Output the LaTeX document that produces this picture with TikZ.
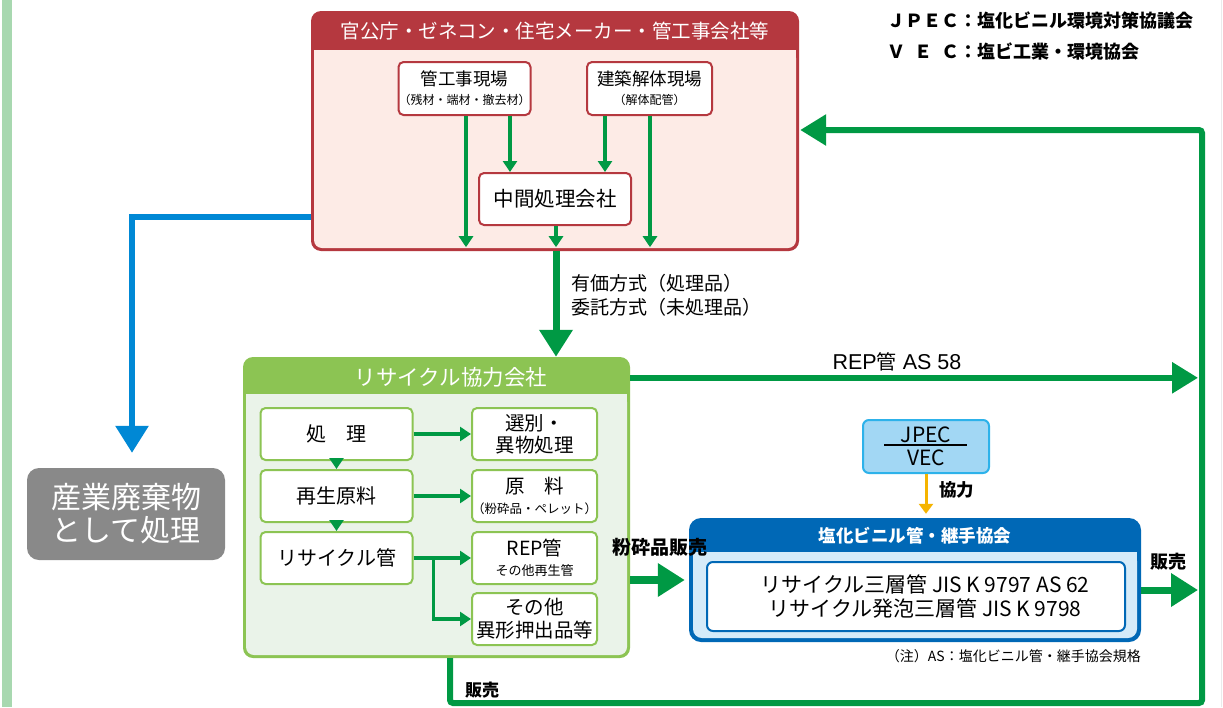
\documentclass[tikz,border=0pt]{standalone}
\usepackage{fontspec}
\setmainfont{Noto Sans CJK JP}
\newfontfamily\lat{Liberation Sans}
\usetikzlibrary{arrows.meta,calc}
\definecolor{redc}{HTML}{B5383F}
\definecolor{pinkc}{HTML}{FDEBE6}
\definecolor{gc}{HTML}{009944}
\definecolor{lgc}{HTML}{8CC453}
\definecolor{rbgc}{HTML}{EAF3E9}
\definecolor{bluel}{HTML}{0088D5}
\definecolor{dbc}{HTML}{0068B6}
\definecolor{lbc}{HTML}{D5EBF9}
\definecolor{jfill}{HTML}{A2D7F4}
\definecolor{jdraw}{HTML}{2DB2EA}
\definecolor{grayc}{HTML}{898989}
\definecolor{yelc}{HTML}{F5B400}
\definecolor{barc}{HTML}{A8D8B0}
\newcommand\fz[2]{\fontsize{#1}{#2}\selectfont}
\begin{document}
\begin{tikzpicture}[x=1pt,y=-1pt,
  redbox/.style={draw=redc,line width=2,fill=white,rounded corners=5,inner sep=0,align=center},
  grbox/.style={draw=lgc,line width=2,fill=white,rounded corners=5,inner sep=0,align=center,minimum width=152,minimum height=52},
  thinarrow/.style={draw=gc,line width=3.5,-{Triangle[length=11pt,width=14pt]}},
  bigarrow/.style={draw=gc,line width=7,-{Triangle[length=27pt,width=32pt]}},
  railarrow/.style={draw=gc,line width=6,-{Triangle[length=26pt,width=30pt]}},
  lbl/.style={inner sep=0,text=black}
]
\useasboundingbox (0,0) rectangle (1223,707);
\fill[white] (0,0) rectangle (1223,707);
\fill[barc] (2,0) rectangle (12,707);
\draw[black!8,line width=1] (1221,0) -- (1221,707);

% legend
\node[lbl,anchor=west,font=\fz{18}{22}\bfseries] (leg1) at (887,21) {ＪＰＥＣ：塩化ビニル環境対策協議会};
\node[lbl,anchor=west,font=\fz{18}{22}\bfseries] (leg2) at (887,52) {\makebox[72pt][s]{Ｖ\hfill Ｅ\hfill Ｃ}：塩ビ工業・環境協会};

% top box
\fill[redc,rounded corners=10] (311,11) rectangle (799,251);
\fill[pinkc,rounded corners=8] (314,50) rectangle (796,248);
\fill[pinkc] (314,50) rectangle (796,62);
\node[inner sep=0,minimum width=488,minimum height=240] (top) at (555,131) {};
\node[lbl,text=white,font=\fz{19.5}{22}] (toptitle) at (555,31) {官公庁・ゼネコン・住宅メーカー・管工事会社等};
\node[redbox,minimum width=125,minimum height=53,font=\fz{17.5}{19}] (kj) at (464.5,88.5) {管工事現場\\{\fz{12}{13}（残材・端材・撤去材）}};
\node[redbox,minimum width=125,minimum height=53,font=\fz{17.5}{19}] (kc) at (649.5,88.5) {建築解体現場\\{\fz{12}{13}（解体配管）}};
\node[redbox,minimum width=152,minimum height=52,font=\fz{20.5}{22}] (chk) at (555,199) {中間処理会社};

\draw[thinarrow] ([xshift=1.5]kj.south) -- ([xshift=-89,yshift=4]top.south);
\draw[thinarrow] ([xshift=45.5]kj.south) -- ([xshift=-45]chk.north);
\draw[thinarrow] ([xshift=-44.5]kc.south) -- ([xshift=50]chk.north);
\draw[thinarrow] ([xshift=0.5]kc.south) -- ([xshift=95,yshift=4]top.south);
\draw[thinarrow] ([xshift=1]chk.south) -- ([xshift=1,yshift=4]top.south);

% waste
\node[fill=grayc,rounded corners=12,minimum width=198,minimum height=92,inner sep=0,text=white,font=\fz{30}{33},align=center] (waste) at (126,514) {産業廃棄物\\として処理};
\coordinate (b1) at ([yshift=-86]top.west);
\draw[draw=bluel,line width=6,-{Triangle[length=27pt,width=32pt]}] (b1) -| ([xshift=6,yshift=15]waste.north);

% recycle box
\fill[lgc,rounded corners=10] (243,357) rectangle (630,658);
\fill[rbgc,rounded corners=8] (246,394) rectangle (627,655);
\fill[rbgc] (246,394) rectangle (627,404);
\node[inner sep=0,minimum width=387,minimum height=301] (rc) at (436.5,507.5) {};
\node[lbl,text=white,font=\fz{21.5}{22}] (rctitle) at (451,377) {リサイクル協力会社};

\node[grbox,font=\fz{20}{22}] (shori) at (336.5,434) {処　理};
\node[grbox,font=\fz{20}{22}] (saisei) at (336.5,496) {再生原料};
\node[grbox,font=\fz{20}{22}] (rpipe) at (336.5,558) {リサイクル管};
\node[grbox,minimum width=125,font=\fz{19.5}{22}] (sen) at (534.5,434) {選別・\\異物処理};
\node[grbox,minimum width=125,font=\fz{19.5}{20}] (genr) at (534.5,496) {原　料\\{\fz{12.5}{14}（粉砕品・ペレット）}};
\node[grbox,minimum width=125,font=\fz{19.5}{20}] (rep) at (534.5,558) {REP管\\{\fz{13}{14}その他再生管}};
\node[grbox,minimum width=125,font=\fz{19.5}{23}] (sonota) at (534.5,619) {その他\\異形押出品等};

\draw[thinarrow] (shori.east) -- (sen.west);
\draw[thinarrow] (saisei.east) -- (genr.west);
\draw[thinarrow] (rpipe.east) -- (rep.west);
\draw[thinarrow] ([xshift=20]rpipe.east) |- (sonota.west);
\draw[thinarrow] (shori.south) -- (saisei.north);
\draw[thinarrow] (saisei.south) -- (rpipe.north);

% main arrow top -> recycle
\coordinate (m1) at ([xshift=1]top.south);
\draw[bigarrow] (m1) -- (m1 |- rc.north);
\node[lbl,anchor=west,font=\fz{19}{24},align=left] (lbl1) at (571,295) {有価方式（処理品）\\委託方式（未処理品）};

% rails
\coordinate (rail) at (1198,130);
\coordinate (rtop) at (1202,130);
\coordinate (corner) at (1202,703);
\coordinate (tret) at ([xshift=1,yshift=1]top.east);
\coordinate (lb) at ([xshift=13.5]rc.south);
\draw[railarrow,rounded corners=3] (lb) |- (corner) -- (rtop) -- (tret);
\node[lbl,anchor=west,font=\fz{17}{20}\bfseries] (lbl3) at (465,690) {販売};

\coordinate (repstart) at ([yshift=-21]rc.north east);
\draw[railarrow] (repstart) -- (rail |- repstart);
\node[lbl,font=\fz{20}{22}] (lbl2) at (897,362) {{\lat\fontsize{21.5}{22}\selectfont REP}管{\lat\fontsize{21.5}{22}\selectfont\ AS 58}};

% JPEC
\node[draw=jdraw,fill=jfill,line width=2,rounded corners=6,minimum width=126,minimum height=53,inner sep=0,align=center,font=\fz{21}{23}] (jpec) at (926,446.5) {JPEC\\VEC};
\draw[black,line width=1.2] ([xshift=-42,yshift=1.5]jpec.center) -- ([xshift=41,yshift=1.5]jpec.center);

% blue box
\fill[dbc,rounded corners=12] (689,518) rectangle (1141,642);
\fill[lbc,rounded corners=9] (693,552) rectangle (1137,638);
\fill[lbc] (693,552) rectangle (1137,562);
\node[inner sep=0,minimum width=452,minimum height=124] (blue) at (915,580) {};
\node[lbl,text=white,font=\fz{17.5}{20}\bfseries] (bluetitle) at (915,536) {塩化ビニル管・継手協会};
\node[draw=dbc,line width=2,fill=white,rounded corners=6,minimum width=418,minimum height=69,inner sep=0] (bi) at (916,596.5) {};
\node[lbl,font=\fz{21}{24},align=center] (bitext) at (925,597) {リサイクル三層管 JIS K 9797 AS 62\\リサイクル発泡三層管 JIS K 9798};

\draw[draw=yelc,line width=3,-{Triangle[length=10pt,width=14pt]}] (jpec.south) -- ([xshift=11,yshift=4]blue.north);
\node[lbl,anchor=west,font=\fz{17.5}{20}\bfseries] (lbl4) at (939,490) {協力};

\coordinate (f1) at ([yshift=-72.5]rc.east);
\draw[draw=gc,line width=8,-{Triangle[length=27pt,width=32pt]}] (f1) -- ([xshift=-4]blue.west);
\node[lbl,font=\fz{19}{20}\bfseries] (lbl5) at (660,547) {粉砕品販売};

\coordinate (s1) at ([yshift=-10]blue.east);
\draw[draw=gc,line width=7,-{Triangle[length=27pt,width=32pt]}] (s1) -- (rail |- s1);
\node[lbl,font=\fz{18}{20}\bfseries] (lbl6) at (1168,562) {販売};

\node[lbl,anchor=east,font=\fz{14}{16}] (note) at (1141,656) {（注）AS：塩化ビニル管・継手協会規格};
\end{tikzpicture}
\end{document}
